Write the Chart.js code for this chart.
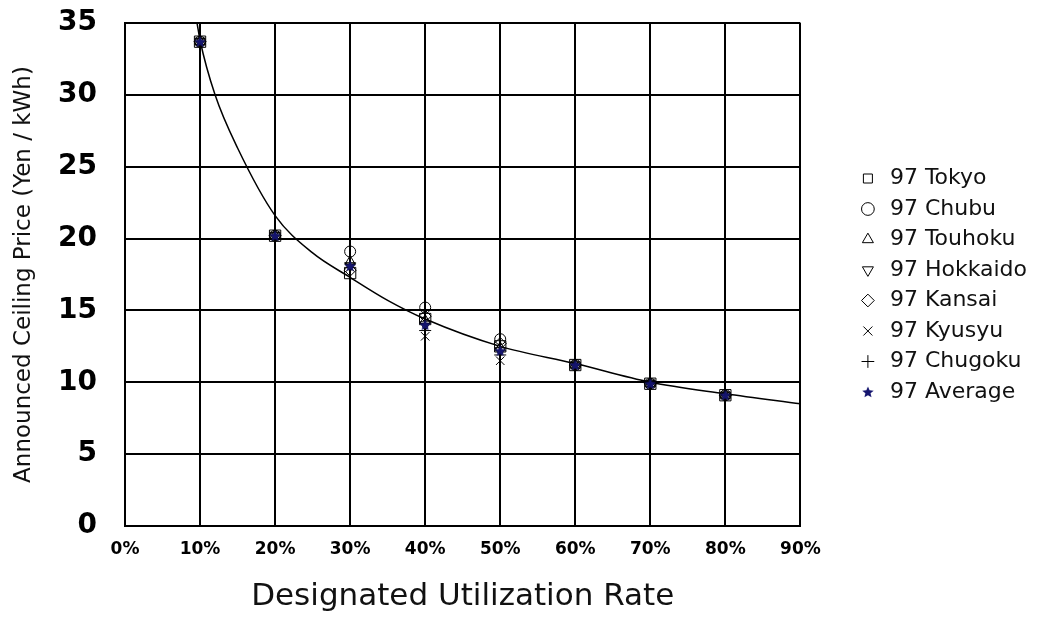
<!DOCTYPE html>
<html>
<head>
<meta charset="utf-8">
<script src="https://cdn.jsdelivr.net/npm/chart.js@4.4.1/dist/chart.umd.min.js"></script>
<style>
  body { margin: 0; background: #fff; }
  #wrap { width: 1037px; height: 624px; }
</style>
</head>
<body>
<div id="wrap"><canvas id="chartCanvas"></canvas></div>
<script>
// utilization rates (%) and announced ceiling prices (Yen / kWh)
const rates = [10, 20, 30, 40, 50, 60, 70, 80];
const tokyo    = [33.7, 20.2, 17.6, 14.4, 12.5, 11.2, 9.9, 9.1];
const chubu    = [33.7, 20.2, 19.1, 15.2, 13.0, 11.2, 9.9, 9.1];
const touhoku  = [33.7, 20.2, 18.4, 14.3, 12.4, 11.2, 9.9, 9.1];
const hokkaido = [33.7, 20.2, 18.1, 14.0, 12.2, 11.2, 9.9, 9.1];
const kansai   = [33.7, 20.2, 17.8, 14.6, 12.7, 11.2, 9.9, 9.1];
const kyusyu   = [33.7, 20.2, 18.0, 13.2, 11.5, 11.2, 9.9, 9.1];
const chugoku  = [33.7, 20.2, 18.3, 13.6, 11.9, 11.2, 9.9, 9.1];
const average  = [33.7, 20.2, 18.1, 14.0, 12.2, 11.2, 9.9, 9.1];

// fitted curve
const curveRate  = [9.6, 10, 12, 15, 20, 25, 30, 35, 40, 50, 60, 70, 80, 90];
const curvePrice = [35, 33.8, 30.0, 26.3, 21.6, 19.0, 17.3, 15.7, 14.4, 12.5, 11.3, 10.0, 9.2, 8.5];

const xTicks = [0, 10, 20, 30, 40, 50, 60, 70, 80, 90];

function pts(ys) {
    return rates.map(function(r, i) { return { x: r, y: ys[i] }; });
}

// small filled star for the average series
function starImage(size, color) {
    const c = document.createElement('canvas');
    c.width = size; c.height = size;
    const g = c.getContext('2d');
    const cx = size / 2, cy = size / 2 + 0.5, R = size / 2, r = R * 0.45;
    g.beginPath();
    for (let i = 0; i < 10; i++) {
        const a = -Math.PI / 2 + i * Math.PI / 5;
        const rr = i % 2 === 0 ? R : r;
        g.lineTo(cx + rr * Math.cos(a), cy + rr * Math.sin(a));
    }
    g.closePath();
    g.fillStyle = color;
    g.fill();
    return c;
}

function series(label, ys, style, radius, extra) {
    return Object.assign({
        label: label,
        data: pts(ys),
        pointStyle: style,
        pointRadius: radius,
        pointBorderColor: '#000',
        pointBackgroundColor: 'rgba(0,0,0,0)',
        borderColor: '#000',
        backgroundColor: 'rgba(0,0,0,0)',
        pointBorderWidth: 1,
        showLine: false,
        order: 1
    }, extra || {});
}

const star = starImage(12, '#14146e');

const ctx = document.getElementById('chartCanvas').getContext('2d');
new Chart(ctx, {
    type: 'scatter',
    data: {
        datasets: [
            series('97 Tokyo', tokyo, 'rect', 8),
            series('97 Chubu', chubu, 'circle', 5.5),
            series('97 Touhoku', touhoku, 'triangle', 6),
            series('97 Hokkaido', hokkaido, 'triangle', 6, { rotation: 180 }),
            series('97 Kansai', kansai, 'rectRot', 6),
            series('97 Kyusyu', kyusyu, 'crossRot', 6),
            series('97 Chugoku', chugoku, 'cross', 6),
            series('97 Average', average, star, 6, { order: 0 }),
            {
                label: 'curve',
                data: curveRate.map(function(r, i) { return { x: r, y: curvePrice[i] }; }),
                showLine: true,
                borderColor: '#000',
                borderWidth: 1.5,
                pointRadius: 0,
                cubicInterpolationMode: 'monotone',
                order: 10
            }
        ]
    },
    options: {
        responsive: true,
        maintainAspectRatio: false,
        animation: false,
        layout: { padding: { top: 23, right: 0, left: 0, bottom: 0 } },
        plugins: {
            tooltip: { enabled: false },
            legend: {
                position: 'right',
                align: 'start',
                maxWidth: 189,
                // empty title used only as a spacer above the entries
                title: {
                    display: true,
                    text: ' ',
                    font: { size: 10 },
                    padding: { top: 124, bottom: 0 }
                },
                labels: {
                    filter: function(item) { return item.text !== 'curve'; },
                    sort: function(a, b) { return a.datasetIndex - b.datasetIndex; },
                    usePointStyle: true,
                    boxWidth: 22,
                    boxHeight: 9,
                    padding: 8.5,
                    color: '#111',
                    font: { family: 'DejaVu Sans', size: 22 }
                }
            }
        },
        scales: {
            x: {
                type: 'linear',
                min: 0,
                max: 90,
                afterBuildTicks: function(s) { s.ticks = xTicks.map(function(v) { return { value: v }; }); },
                afterFit: function(s) { s.height = 98; },
                grid: { color: '#000', lineWidth: 2, drawTicks: false },
                border: { color: '#000', width: 2 },
                ticks: {
                    padding: 13,
                    color: '#000',
                    maxRotation: 0,
                    font: { family: 'DejaVu Sans', weight: 'bold', size: 17 },
                    callback: function(v) { return v + '%'; }
                },
                title: {
                    display: true,
                    text: 'Designated Utilization Rate',
                    color: '#111',
                    padding: { top: 0, bottom: 8 },
                    font: { family: 'DejaVu Sans', size: 31 }
                }
            },
            y: {
                min: 0,
                max: 35,
                afterFit: function(s) {
                    s.width = 125;
                    s.paddingTop = 0;
                    s.paddingBottom = 0;
                },
                grid: { color: '#000', lineWidth: 2, drawTicks: false },
                border: { color: '#000', width: 2 },
                ticks: {
                    stepSize: 5,
                    padding: 28,
                    color: '#000',
                    font: { family: 'DejaVu Sans', weight: 'bold', size: 28 }
                },
                title: {
                    display: true,
                    text: 'Announced Ceiling Price (Yen / kWh)',
                    color: '#111',
                    padding: { top: 10, bottom: 0 },
                    font: { family: 'DejaVu Sans', size: 23 }
                }
            },
            y2: {
                position: 'right',
                display: true,
                grid: { display: false },
                border: { display: false },
                ticks: { display: false },
                afterFit: function(s) { s.width = 48; }
            }
        }
    }
});
</script>
</body>
</html>
